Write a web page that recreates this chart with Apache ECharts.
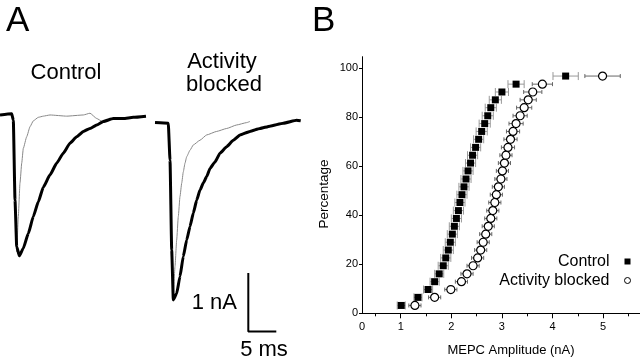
<!DOCTYPE html>
<html>
<head>
<meta charset="utf-8">
<script src="https://cdn.jsdelivr.net/npm/echarts@6/dist/echarts.min.js"></script>
<style>
  html, body { margin: 0; padding: 0; background: #fff; }
  #main { width: 640px; height: 359px; }
</style>
</head>
<body>
<div id="main"></div>
<script>
/* ---------- panel A: MEPC traces (time in ms, current in nA) ---------- */
var ctrlSlowT = [0, 2.09, 2.38, 2.68, 2.98, 3.45, 4.16, 5.05, 5.95, 6.84, 7.73, 8.93, 10.13, 11.30, 12.50, 13.70, 14.88, 16.07, 17.27, 18.45, 20.23, 22.02, 23.80, 26.07];
var ctrlSlowI = [0, 0.02, -0.09, -1.45, -2.24, -2.40, -2.27, -2.02, -1.73, -1.48, -1.23, -1.02, -0.82, -0.65, -0.48, -0.37, -0.28, -0.23, -0.17, -0.11, -0.06, -0.06, -0.04, -0.02];
var ctrlFastT = [0, 2.09, 2.38, 2.68, 2.98, 3.27, 3.57, 3.88, 4.16, 4.77, 5.36, 5.95, 6.84, 7.73, 8.93, 11.91, 14.88, 16.07, 17.27, 18.16];
var ctrlFastI = [0, 0.02, -0.09, -1.45, -2.33, -1.73, -1.16, -0.82, -0.57, -0.37, -0.20, -0.10, -0.04, -0.02, 0, -0.02, 0, 0.03, -0.06, -0.11];
var blkSlowT = [27.68, 30.05, 30.36, 30.66, 30.95, 31.55, 32.14, 32.73, 33.34, 33.93, 34.52, 35.13, 35.71, 36.30, 36.91, 37.50, 38.39, 39.29, 40.48, 41.66, 42.86, 44.64, 46.43, 48.21, 50.59, 52.98, 53.70];
var blkSlowI = [-0.13, -0.14, -0.77, -2.30, -3.15, -3.04, -2.75, -2.41, -2.13, -1.90, -1.67, -1.45, -1.28, -1.16, -1.05, -0.91, -0.80, -0.65, -0.54, -0.43, -0.34, -0.28, -0.23, -0.19, -0.14, -0.09, -0.10];
var blkFastT = [27.68, 30.05, 30.36, 30.66, 30.95, 31.25, 31.55, 31.84, 32.14, 32.45, 32.73, 33.04, 33.34, 33.93, 34.52, 35.71, 36.91, 38.70, 40.48, 42.27, 44.05, 44.64];
var blkFastI = [-0.13, -0.14, -0.77, -2.30, -3.10, -2.58, -2.13, -1.73, -1.39, -1.16, -0.97, -0.82, -0.71, -0.60, -0.51, -0.43, -0.34, -0.28, -0.23, -0.17, -0.13, -0.11];
var scaleBarT = [44.34, 44.34, 49.34];
var scaleBarI = [-2.69, -3.69, -3.69];

/* ---------- panel B: cumulative MEPC amplitude ---------- */
var percentage = [3.2, 6.5, 9.7, 12.9, 16.1, 19.4, 22.6, 25.8, 29.0, 32.3, 35.5, 38.7, 41.9, 45.2, 48.4, 51.6, 54.8, 58.1, 61.3, 64.5, 67.7, 71.0, 74.2, 77.4, 80.6, 83.9, 87.1, 90.3, 93.5, 96.8];
var controlAmp = [1.01, 1.34, 1.54, 1.67, 1.76, 1.84, 1.89, 1.94, 1.98, 2.02, 2.06, 2.10, 2.14, 2.17, 2.21, 2.25, 2.29, 2.33, 2.38, 2.42, 2.48, 2.54, 2.60, 2.66, 2.72, 2.78, 2.87, 3.00, 3.28, 4.26];
var controlErr = [0.08, 0.08, 0.09, 0.09, 0.09, 0.10, 0.10, 0.10, 0.10, 0.10, 0.10, 0.10, 0.10, 0.10, 0.10, 0.10, 0.10, 0.10, 0.10, 0.10, 0.10, 0.10, 0.11, 0.11, 0.11, 0.11, 0.12, 0.13, 0.16, 0.25];
var blockedAmp = [1.28, 1.67, 1.99, 2.20, 2.31, 2.43, 2.52, 2.58, 2.63, 2.68, 2.73, 2.78, 2.82, 2.86, 2.89, 2.93, 2.98, 3.01, 3.05, 3.08, 3.12, 3.17, 3.22, 3.28, 3.36, 3.44, 3.52, 3.61, 3.80, 4.99];
var blockedErr = [0.12, 0.12, 0.12, 0.12, 0.12, 0.12, 0.12, 0.12, 0.12, 0.12, 0.12, 0.12, 0.12, 0.12, 0.12, 0.12, 0.12, 0.12, 0.12, 0.12, 0.13, 0.13, 0.13, 0.14, 0.14, 0.15, 0.16, 0.18, 0.20, 0.35];
var xLabelValues = [0.234, 1, 2, 3, 4, 5];
var xMajorTicks = [1, 2, 3, 4, 5];
var xMinorTicks = [0.5, 1.5, 2.5, 3.5, 4.5, 5.5];
var yTickValues = [0, 20, 40, 60, 80, 100];

var FONT = 'Liberation Sans, Arial, sans-serif';

function zip(a, b) {
    return a.map(function (v, i) { return [v, b[i]]; });
}

function trace(t, I, color, width) {
    return {
        type: 'line',
        xAxisIndex: 2,
        yAxisIndex: 1,
        data: zip(t, I),
        showSymbol: false,
        smooth: 0.15,
        smoothMonotone: 'x',
        lineStyle: { color: color, width: width, join: 'round' },
        silent: true
    };
}

function errorBars(xs, errs, capH, color) {
    return {
        type: 'custom',
        xAxisIndex: 0,
        yAxisIndex: 0,
        silent: true,
        z: 1,
        data: xs.map(function (x, i) { return [x, percentage[i], errs[i]]; }),
        encode: { x: 0, y: 1 },
        renderItem: function (params, api) {
            var x = api.value(0), y = api.value(1), e = api.value(2);
            var lo = api.coord([x - e, y]);
            var hi = api.coord([x + e, y]);
            var h = capH / 2;
            var st = { stroke: color, lineWidth: 1 };
            return {
                type: 'group',
                children: [
                    { type: 'line', shape: { x1: lo[0], y1: lo[1], x2: hi[0], y2: hi[1] }, style: st },
                    { type: 'line', shape: { x1: lo[0], y1: lo[1] - h, x2: lo[0], y2: lo[1] + h }, style: st },
                    { type: 'line', shape: { x1: hi[0], y1: hi[1] - h, x2: hi[0], y2: hi[1] + h }, style: st }
                ]
            };
        }
    };
}

function label(text, x, y, size, align) {
    return {
        type: 'text',
        x: x,
        y: y,
        style: {
            text: text,
            font: size + 'px ' + FONT,
            fill: '#000',
            align: align || 'center',
            verticalAlign: 'middle',
            textAlign: align || 'center',
            textVerticalAlign: 'middle'
        }
    };
}

var chart = echarts.init(document.getElementById('main'));

var option = {
    animation: false,
    textStyle: { fontFamily: FONT },
    grid: [
        { left: 362, top: 56.7, width: 278, height: 256.6 },
        { left: 0, top: 100.3, width: 302.4, height: 234.8 }
    ],
    xAxis: [
        {
            type: 'value', gridIndex: 0, min: 0.234, max: 5.73, position: 'bottom',
            axisLine: { onZero: false, lineStyle: { color: '#000', width: 1 } },
            axisTick: { customValues: xMajorTicks, length: 5, lineStyle: { color: '#000' } },
            axisLabel: {
                customValues: xLabelValues, color: '#000', fontSize: 11, margin: 8,
                formatter: function (v) { return v < 0.5 ? '0' : String(v); }
            },
            splitLine: { show: false }
        },
        {
            type: 'value', gridIndex: 0, min: 0.234, max: 5.73, position: 'bottom',
            axisLine: { show: false, onZero: false },
            axisTick: { customValues: xMinorTicks, length: 3, lineStyle: { color: '#000' } },
            axisLabel: { show: false },
            splitLine: { show: false }
        },
        { type: 'value', gridIndex: 1, min: 0, max: 54, show: false }
    ],
    yAxis: [
        {
            type: 'value', gridIndex: 0, min: 0, max: 104.7,
            axisLine: { show: true, onZero: false, lineStyle: { color: '#000', width: 1 } },
            axisTick: { show: true, customValues: yTickValues, length: 3, lineStyle: { color: '#000' } },
            axisLabel: { customValues: yTickValues, color: '#000', fontSize: 11, margin: 4 },
            splitLine: { show: false }
        },
        { type: 'value', gridIndex: 1, min: -3.75, max: 0.25, show: false }
    ],
    legend: {
        data: ['Control', 'Activity blocked'],
        orient: 'vertical',
        align: 'right',
        right: 9,
        top: 252,
        padding: 0,
        itemGap: 0,
        itemWidth: 6,
        itemHeight: 6,
        selectedMode: false,
        itemStyle: { borderWidth: 1 },
        textStyle: { fontSize: 16, color: '#000', lineHeight: 19, padding: [0, 10, 0, 0] }
    },
    graphic: [
        label('A', 6, 21, 35, 'left'),
        label('B', 312, 21, 35, 'left'),
        label('Control', 66, 73, 22),
        label('Activity', 222, 62, 22),
        label('blocked', 224, 85, 22),
        label('1 nA', 237, 303, 22, 'right'),
        label('5 ms', 264, 350, 22),
        label('MEPC Amplitude (nA)', 511, 350, 13),
        {
            type: 'text', x: 324, y: 194, rotation: Math.PI / 2,
            style: {
                text: 'Percentage', font: '13.5px ' + FONT, fill: '#000',
                align: 'center', verticalAlign: 'middle',
                textAlign: 'center', textVerticalAlign: 'middle'
            }
        }
    ],
    series: [
        errorBars(controlAmp, controlErr, 8, '#999'),
        errorBars(blockedAmp, blockedErr, 4, '#666'),
        {
            name: 'Control', type: 'scatter', xAxisIndex: 0, yAxisIndex: 0, z: 3,
            symbol: 'rect', symbolSize: 7,
            data: zip(controlAmp, percentage),
            itemStyle: { color: '#000', opacity: 1 }
        },
        {
            name: 'Activity blocked', type: 'scatter', xAxisIndex: 0, yAxisIndex: 0, z: 3,
            symbol: 'circle', symbolSize: 8,
            data: zip(blockedAmp, percentage),
            itemStyle: { color: '#fff', borderColor: '#000', borderWidth: 1.2, opacity: 1 }
        },
        trace(ctrlFastT, ctrlFastI, '#888', 1),
        trace(blkFastT, blkFastI, '#888', 1),
        trace(ctrlSlowT, ctrlSlowI, '#000', 3),
        trace(blkSlowT, blkSlowI, '#000', 3),
        {
            type: 'line', xAxisIndex: 2, yAxisIndex: 1,
            data: zip(scaleBarT, scaleBarI),
            showSymbol: false, silent: true,
            lineStyle: { color: '#000', width: 2 }
        }
    ]
};

chart.setOption(option);
</script>
</body>
</html>
